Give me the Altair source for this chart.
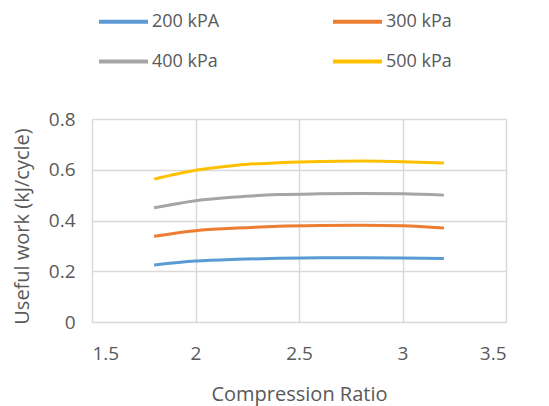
import altair as alt
import pandas as pd

ratio = [1.8, 2.0, 2.2, 2.4, 2.6, 2.8, 3.0, 3.2]
w200 = [0.225, 0.240, 0.247, 0.251, 0.253, 0.253, 0.252, 0.250]
w300 = [0.338, 0.360, 0.370, 0.377, 0.380, 0.381, 0.379, 0.370]
w400 = [0.450, 0.478, 0.493, 0.502, 0.505, 0.506, 0.505, 0.500]
w500 = [0.563, 0.598, 0.618, 0.628, 0.633, 0.634, 0.632, 0.627]
series = ["200 kPA", "300 kPa", "400 kPa", "500 kPa"]
colors = ["#5b9bd5", "#ed7d31", "#a5a5a5", "#ffc000"]

rows = []
for name, vals in zip(series, [w200, w300, w400, w500]):
    for x, y in zip(ratio, vals):
        rows.append({"ratio": x, "work": y, "series": name})
df = pd.DataFrame(rows)

FONT = "Open Sans"
TXT = "#595959"

chart = alt.Chart(df).mark_line(strokeWidth=3, interpolate="monotone").encode(
    x=alt.X("ratio:Q", title="Compression Ratio",
            scale=alt.Scale(domain=[1.5, 3.5], nice=False, zero=False),
            axis=alt.Axis(values=[1.5, 2, 2.5, 3, 3.5], format="~g", domain=False, ticks=False,
                          gridColor="#d9d9d9", gridWidth=1.5, labelPadding=22,
                          labelFontSize=19, labelColor=TXT, labelFont=FONT,
                          titleFont=FONT, titleFontSize=20, titleColor=TXT,
                          titleFontWeight="normal", titlePadding=21)),
    y=alt.Y("work:Q", title="Useful work (kJ/cycle)",
            scale=alt.Scale(domain=[0, 0.8], nice=False),
            axis=alt.Axis(values=[0, 0.2, 0.4, 0.6, 0.8], format="~g", domain=False, ticks=False,
                          gridColor="#d9d9d9", gridWidth=1.5, labelPadding=17,
                          labelFontSize=19, labelColor=TXT, labelFont=FONT,
                          titleFont=FONT, titleFontSize=20, titleColor=TXT,
                          titleFontWeight="normal", titlePadding=16, titleY=107)),
    color=alt.Color("series:N", scale=alt.Scale(domain=series, range=colors),
                    legend=alt.Legend(title=None, orient="none", legendX=5, legendY=-124,
                                      columns=2, columnPadding=105, rowPadding=4,
                                      symbolType="stroke", symbolSize=2400, symbolStrokeWidth=4,
                                      labelFont=FONT, labelFontSize=18, labelColor=TXT,
                                      labelOffset=2, direction="horizontal")),
).properties(
    width=414, height=203,
    autosize=alt.AutoSizeParams(type="none"),
    padding={"left": 92, "top": 119, "right": 43, "bottom": 84},
).configure_view(stroke=None).configure(background="white")

chart.save("out.html", embed_options={"renderer": "svg", "actions": False})
